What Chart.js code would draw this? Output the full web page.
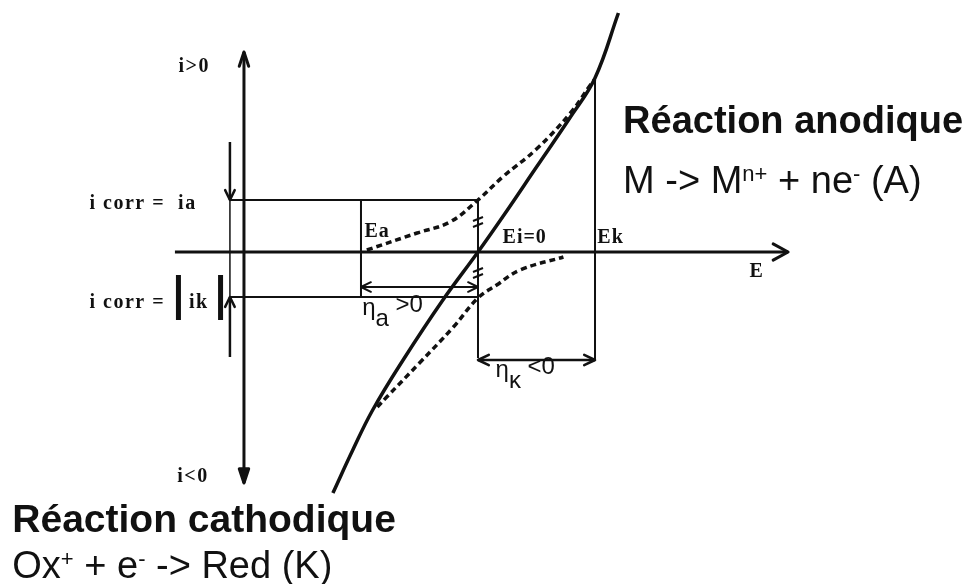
<!DOCTYPE html>
<html>
<head>
<meta charset="utf-8">
<script src="https://cdn.jsdelivr.net/npm/chart.js@4.4.1/dist/chart.umd.min.js"></script>
<style>
  body { margin: 0; background: #fff; }
  #wrap { width: 976px; height: 584px; }
</style>
</head>
<body>
<div id="wrap"><canvas id="myChart" width="976" height="584"></canvas></div>
<script>
// diagramme d'Evans : E en unites arbitraires (Ea = -1, Ei = 0, Ek = +1), i idem

// courbe totale (trait plein)
const totalE = [-1.24, -1.07, -0.9, -0.64, -0.3, 0, 0.21, 0.5, 0.79, 1.0, 1.2];
const totalI = [-4.82, -3.96, -3.16, -2.16, -0.96, 0, 0.7, 1.7, 2.7, 3.48, 4.78];

// courbe partielle anodique (pointilles)
const anodE = [-0.95, -0.52, -0.24, 0, 0.21, 0.5, 0.79, 0.96, 1.0];
const anodI = [0.04, 0.38, 0.6, 1.04, 1.5, 2.06, 2.78, 3.34, 3.46];

// courbe partielle cathodique (pointilles)
const cathE = [-0.86, -0.78, -0.5, -0.21, 0, 0.16, 0.36, 0.73];
const cathI = [-3.1, -2.9, -2.22, -1.5, -0.92, -0.66, -0.36, -0.1];

// potentiels et courants remarquables
const Ea = -1, Ei = 0, Ek = 1;
const ia = 1.04, ik = -0.9;

// axes
const axeE = [-2.59, 2.65];
const axeI = [-4.62, 4.0];
const posAxeI = -2.0;
const posIcorr = -2.12;

const toPts = (xs, ys) => xs.map((x, k) => ({ x: x, y: ys[k] }));
const seg = (x1, y1, x2, y2) => [{ x: x1, y: y1 }, { x: x2, y: y2 }];

const ligne = (data, w, extra) => Object.assign({
    data: data,
    showLine: true,
    borderColor: '#111',
    borderWidth: w,
    pointRadius: 0,
    tension: 0,
    fill: false
}, extra || {});

const drawHead = (ctx, x, y, ang, size, filled, w, spread) => {
    const a1 = ang + Math.PI - spread;
    const a2 = ang + Math.PI + spread;
    ctx.save();
    ctx.strokeStyle = '#111';
    ctx.fillStyle = '#111';
    ctx.lineWidth = w;
    ctx.lineCap = 'round';
    ctx.lineJoin = 'round';
    ctx.beginPath();
    ctx.moveTo(x + size * Math.cos(a1), y + size * Math.sin(a1));
    ctx.lineTo(x, y);
    ctx.lineTo(x + size * Math.cos(a2), y + size * Math.sin(a2));
    if (filled) {
        ctx.closePath();
        ctx.fill();
    }
    ctx.stroke();
    ctx.restore();
};

const marques = [[Ei, 0.6], [Ei, -0.42]];

const flechesPlugin = {
    id: 'fleches',
    afterDatasetsDraw(chart) {
        const ctx = chart.ctx;
        chart.data.datasets.forEach((ds, k) => {
            if (!ds.arrows) return;
            const pts = chart.getDatasetMeta(k).data;
            ds.arrows.forEach(a => {
                const tip = a === 'end' ? pts[pts.length - 1] : pts[0];
                const from = a === 'end' ? pts[pts.length - 2] : pts[1];
                const ang = Math.atan2(tip.y - from.y, tip.x - from.x);
                const filled = ds.headFill ? ds.headFill.indexOf(a) >= 0 : false;
                drawHead(ctx, tip.x, tip.y, ang, ds.headSize || 12, filled, ds.headWidth || ds.borderWidth, ds.headSpread || 0.45);
            });
        });
        // petites marques sur la verticale Ei
        const sx = chart.scales.x, sy = chart.scales.y;
        ctx.save();
        ctx.strokeStyle = '#111';
        ctx.lineWidth = 2;
        marques.forEach(m => {
            const x = sx.getPixelForValue(m[0]);
            const y = sy.getPixelForValue(m[1]);
            [-3, 3].forEach(d => {
                ctx.beginPath();
                ctx.moveTo(x - 5, y + d + 2);
                ctx.lineTo(x + 5, y + d - 2);
                ctx.stroke();
            });
        });
        ctx.restore();
    }
};

// textes : [texte, police, decalage vertical, espacement], E, i
const serif = 'bold 20px "Liberation Serif", "DejaVu Serif", serif';
const sans22 = '24px "Liberation Sans", Arial, sans-serif';
const sans38 = '38px "Liberation Sans", Arial, sans-serif';
const sup = '22px "Liberation Sans", Arial, sans-serif';
const textes = [
    { E: -2.56, i: 3.6, parts: [['i>0', serif, 0, 1.5]] },
    { E: -2.57, i: -4.6, parts: [['i<0', serif, 0, 1.5]] },
    { E: -3.32, i: 0.86, parts: [['i corr =  ia', serif, 0, 1.5]] },
    { E: -3.32, i: -1.12, parts: [['i corr =', serif, 0, 1.5]] },
    { E: -2.47, i: -1.12, parts: [['ik', serif, 0, 1.5]] },
    { E: -0.97, i: 0.3, parts: [['Ea', serif, 0, 1]] },
    { E: 0.21, i: 0.18, parts: [['Ei=0', serif, 0, 1]] },
    { E: 1.02, i: 0.18, parts: [['Ek', serif, 0, 1]] },
    { E: 2.32, i: -0.5, parts: [['E', serif, 0, 0]] },
    { E: -0.99, i: -1.26, parts: [['\u03b7', sans22, 0, 0], ['a', sans22, 11, 0], [' >0', sans22, -3, 0]] },
    { E: 0.15, i: -2.5, parts: [['\u03b7', sans22, 0, 0], ['\u03ba', sans22, 11, 0], [' <0', sans22, -3, 0]] },
    { E: 1.24, i: 2.38, parts: [['R\u00e9action anodique', 'bold 38px "Liberation Sans", Arial, sans-serif', 0, 0]] },
    { E: 1.24, i: 1.18, parts: [['M -> M', sans38, 0, 0], ['n+', sup, -12, 0], [' + ne', sans38, 0, 0], ['-', sup, -12, 0], [' (A)', sans38, 0, 0]] },
    { E: -3.98, i: -5.6, parts: [['R\u00e9action cathodique', 'bold 39px "Liberation Sans", Arial, sans-serif', 0, 0]] },
    { E: -3.98, i: -6.52, parts: [['Ox', sans38, 0, 0], ['+', sup, -12, 0], [' + e', sans38, 0, 0], ['-', sup, -12, 0], [' -> Red (K)', sans38, 0, 0]] }
];

const textesPlugin = {
    id: 'textes',
    afterDatasetsDraw(chart) {
        const ctx = chart.ctx;
        const sx = chart.scales.x, sy = chart.scales.y;
        ctx.save();
        ctx.fillStyle = '#111';
        ctx.textBaseline = 'alphabetic';
        ctx.textAlign = 'left';
        textes.forEach(t => {
            let x = sx.getPixelForValue(t.E);
            const y = sy.getPixelForValue(t.i);
            t.parts.forEach(p => {
                ctx.font = p[1];
                ctx.letterSpacing = p[3] + 'px';
                ctx.fillText(p[0], x, y + p[2]);
                x += ctx.measureText(p[0]).width;
            });
        });
        ctx.letterSpacing = '0px';
        ctx.restore();
    }
};

const ctx = document.getElementById('myChart');

new Chart(ctx, {
    type: 'scatter',
    data: {
        datasets: [
            // axes
            ligne(seg(axeE[0], 0, axeE[1], 0), 3, { arrows: ['end'], headSize: 17, headSpread: 0.5 }),
            ligne(seg(posAxeI, axeI[0], posAxeI, axeI[1]), 3, { arrows: ['start', 'end'], headSize: 15, headSpread: 0.32, headFill: ['start'] }),
            // i corr
            ligne(seg(posIcorr, ia, Ei, ia), 2),
            ligne(seg(posIcorr, ik, Ei, ik), 2),
            ligne(seg(posIcorr, 2.2, posIcorr, ia), 2.5, { arrows: ['end'], headSize: 11 }),
            ligne(seg(posIcorr, ia, posIcorr, ik), 1.5),
            ligne(seg(posIcorr, -2.1, posIcorr, ik), 2.5, { arrows: ['end'], headSize: 11 }),
            // barres de valeur absolue |ik|
            ligne(seg(-2.56, -0.46, -2.56, -1.36), 5),
            ligne(seg(-2.2, -0.46, -2.2, -1.36), 5),
            // verticales Ea, Ei, Ek
            ligne(seg(Ea, ia, Ea, ik), 2),
            ligne(seg(Ei, ia, Ei, -2.12), 2),
            ligne(seg(Ek, 3.44, Ek, -2.16), 2),
            // surtensions
            ligne(seg(Ea, -0.7, Ei, -0.7), 2, { arrows: ['start', 'end'], headSize: 11 }),
            ligne(seg(Ei, -2.16, Ek, -2.16), 2.5, { arrows: ['start', 'end'], headSize: 12 }),
            // courbes
            ligne(toPts(anodE, anodI), 3.5, { borderDash: [6, 4], tension: 0.4 }),
            ligne(toPts(cathE, cathI), 3.5, { borderDash: [6, 4], tension: 0.4 }),
            ligne(toPts(totalE, totalI), 3.5, { tension: 0.4 })
        ]
    },
    options: {
        responsive: false,
        animation: false,
        devicePixelRatio: 1,
        layout: { padding: 0 },
        plugins: {
            legend: { display: false },
            tooltip: { enabled: false }
        },
        scales: {
            x: { type: 'linear', display: false, min: -4.085, max: 4.256 },
            y: { type: 'linear', display: false, min: -6.64, max: 5.04 }
        }
    },
    plugins: [flechesPlugin, textesPlugin]
});
</script>
</body>
</html>
